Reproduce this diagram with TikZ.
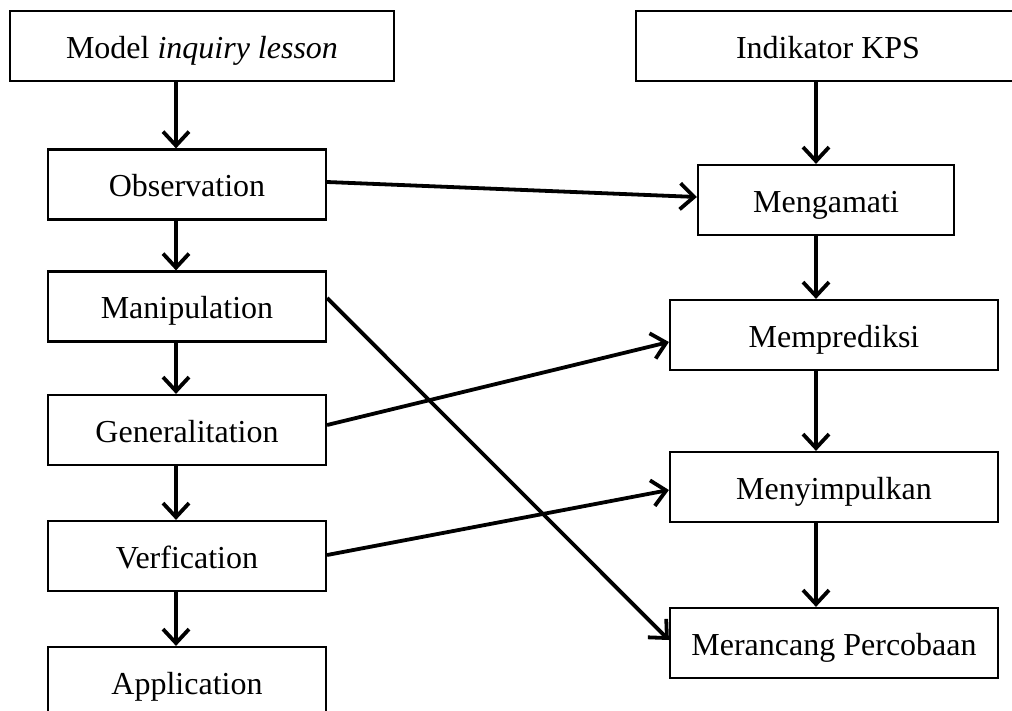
\documentclass[tikz,border=0pt]{standalone}
\usepackage{fontspec}
\setmainfont{Liberation Serif}
\usetikzlibrary{arrows.meta}
\begin{document}
\begin{tikzpicture}[x=1pt,y=-1pt,
  box/.style={draw=black,line width=2.2pt,minimum height=70pt,inner sep=0pt,
    text height=28pt,text depth=4pt,
    font=\fontsize{32}{38}\selectfont},
  arr/.style={line width=3.8pt,-{Straight Barb[length=14pt,width=26pt,line width=3.8pt]}}]
\useasboundingbox (0,0) rectangle (1012,710);
\clip (0,0) rectangle (1012,710);
% left column
\node[box,minimum width=384pt] (model) at (202,46) {Model \textit{inquiry lesson}};
\node[box,minimum width=278pt] (obs) at (187,184.5) {Observation};
\node[box,minimum width=278pt] (man) at (187,306.5) {Manipulation};
\node[box,minimum width=278pt] (gen) at (187,430) {Generalitation};
\node[box,minimum width=278pt] (ver) at (187,556) {Verfication};
\node[box,minimum width=278pt] (app) at (187,682) {Application};
% right column
\node[box,minimum width=384pt] (kps) at (828,46) {Indikator KPS};
\node[box,minimum width=256pt] (ama) at (826,200) {Mengamati};
\node[box,minimum width=328pt] (pre) at (834,335) {Memprediksi};
\node[box,minimum width=328pt] (sim) at (834,487) {Menyimpulkan};
\node[box,minimum width=328pt] (ran) at (834,643) {Merancang Percobaan};
% helper coordinates
\coordinate (xl) at (176,0);
\coordinate (xr) at (816,0);
% vertical arrows left
\draw[arr] (model.south -| xl) -- (obs.north -| xl);
\draw[arr] (obs.south -| xl) -- (man.north -| xl);
\draw[arr] (man.south -| xl) -- (gen.north -| xl);
\draw[arr] (gen.south -| xl) -- (ver.north -| xl);
\draw[arr] (ver.south -| xl) -- (app.north -| xl);
% vertical arrows right
\draw[arr] (kps.south -| xr) -- (ama.north -| xr);
\draw[arr] (ama.south -| xr) -- (pre.north -| xr);
\draw[arr] (pre.south -| xr) -- (sim.north -| xr);
\draw[arr] (sim.south -| xr) -- (ran.north -| xr);
% cross arrows
\draw[arr] ([yshift=2.5pt]obs.east) -- ([yshift=3pt]ama.west);
\draw[arr] ([yshift=8.5pt]man.east) -- ([yshift=3pt]ran.west);
\draw[arr] ([yshift=5pt]gen.east) -- ([yshift=-7pt]pre.west);
\draw[arr] ([yshift=1pt]ver.east) -- ([yshift=-3pt]sim.west);
\end{tikzpicture}
\end{document}
